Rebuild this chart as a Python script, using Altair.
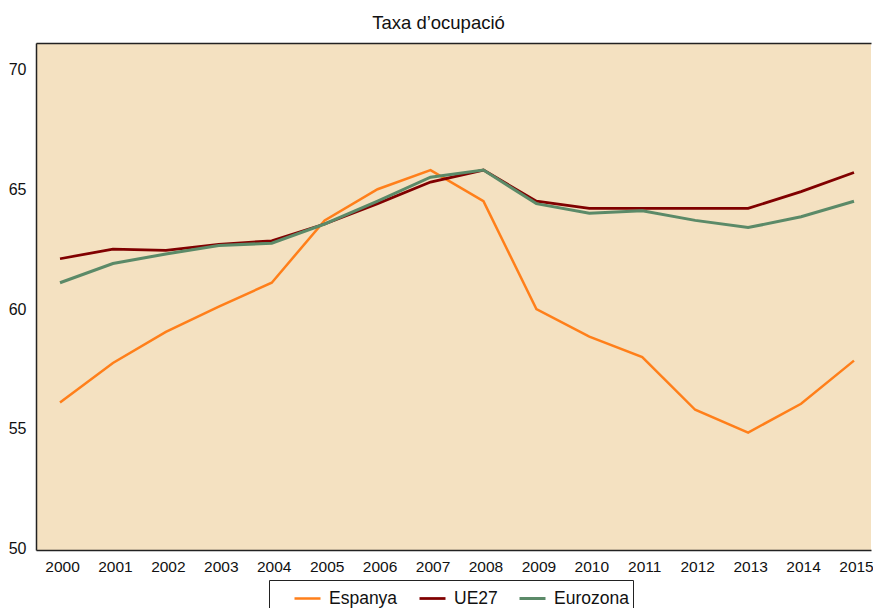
import altair as alt
import pandas as pd

years = list(range(2000, 2016))
espanya = [56.1, 57.75, 59.05, 60.1, 61.1, 63.7, 65.0, 65.8, 64.5, 60.0, 58.85, 58.0, 55.8, 54.85, 56.05, 57.85]
ue27 = [62.1, 62.5, 62.45, 62.7, 62.85, 63.55, 64.4, 65.3, 65.8, 64.5, 64.2, 64.2, 64.2, 64.2, 64.9, 65.7]
eurozona = [61.1, 61.9, 62.3, 62.65, 62.75, 63.55, 64.5, 65.5, 65.8, 64.4, 64.0, 64.1, 63.7, 63.4, 63.85, 64.5]

series = ["Espanya", "UE27", "Eurozona"]
colors = ["#FF7F1A", "#800000", "#5B8A68"]
widths = [2.5, 3, 3]

rows = []
for name, vals in zip(series, [espanya, ue27, eurozona]):
    for y, v in zip(years, vals):
        rows.append({"year": y, "value": v, "serie": name})
df = pd.DataFrame(rows)

FONT = "Liberation Sans"
XDOM = [1999.5466, 2015.3212]
YDOM = [49.95, 71.1]

base = alt.Chart(df)

lines = base.mark_line().encode(
    x=alt.X("year:Q",
            scale=alt.Scale(domain=XDOM, nice=False, zero=False),
            axis=alt.Axis(values=years, format="d", title=None, ticks=False, grid=False,
                          labelPadding=9, labelOffset=2, domainColor="#222", domainWidth=1.5,
                          labelFontSize=15.5, labelColor="#111", labelFont=FONT)),
    y=alt.Y("value:Q",
            scale=alt.Scale(domain=YDOM, nice=False, zero=False),
            axis=alt.Axis(values=[50, 55, 60, 65, 70], title=None, ticks=False, grid=False,
                          labelPadding=10, domainColor="#222", domainWidth=1.5,
                          labelFontSize=16, labelColor="#111", labelFont=FONT)),
    color=alt.Color("serie:N",
                    scale=alt.Scale(domain=series, range=colors),
                    sort=series,
                    legend=alt.Legend(title=None, orient="none", direction="horizontal",
                                      legendX=233, legendY=537,
                                      symbolType="stroke", symbolSize=676, symbolStrokeWidth=3,
                                      labelFontSize=17.5, labelFont=FONT, labelColor="#111",
                                      labelOffset=7, columnPadding=-4, symbolOffset=20,
                                      padding=4, strokeColor="#222", fillColor="white")),
    strokeWidth=alt.StrokeWidth("serie:N", scale=alt.Scale(domain=series, range=widths), legend=None),
    order=alt.Order("year:Q"),
)

topaxis = base.mark_line(opacity=0).encode(
    x=alt.X("year:Q",
            scale=alt.Scale(domain=XDOM, nice=False, zero=False),
            axis=alt.Axis(orient="top", labels=False, ticks=False, grid=False, title=None,
                          domainColor="#222", domainWidth=1.5)),
    y=alt.Y("value:Q", scale=alt.Scale(domain=YDOM, nice=False, zero=False)),
)

chart = alt.layer(topaxis, lines).resolve_axis(x="independent").properties(
    width=835,
    height=507,
    autosize=alt.AutoSizeParams(type="none"),
    padding={"left": 28, "top": 35, "right": 2, "bottom": 65},
    title=alt.TitleParams("Taxa d\u2019ocupació", fontSize=18.5, fontWeight="normal", font=FONT,
                          color="#111", offset=11, frame="group", dx=-15),
).configure(background="white").configure_view(fill="#F4E1C1", stroke=None)

chart.save("out.html", embed_options={"renderer": "svg", "actions": False})
